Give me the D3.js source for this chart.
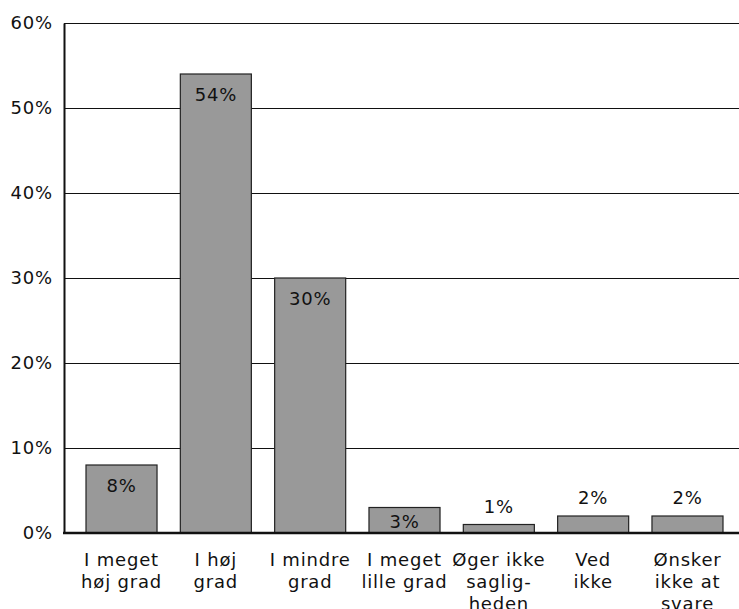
<!DOCTYPE html>
<html>
<head>
<meta charset="utf-8">
<script src="https://cdn.jsdelivr.net/npm/d3@7"></script>
<style>
  html, body { margin: 0; padding: 0; background: #fff; }
  text { font-family: "DejaVu Sans", sans-serif; fill: #111; }
</style>
</head>
<body>
<svg id="chart" width="739" height="609"></svg>
<script>
const categories = [
  "I meget\nhøj grad",
  "I høj\ngrad",
  "I mindre\ngrad",
  "I meget\nlille grad",
  "Øger ikke\nsaglig-\nheden",
  "Ved\nikke",
  "Ønsker\nikke at\nsvare"
];
const values = [8, 54, 30, 3, 1, 2, 2];
const yTicks = [0, 10, 20, 30, 40, 50, 60];

const svg = d3.select("#chart");
const mLeft = 64, mRight = 739, mTop = 23, mBottom = 533;

const y = d3.scaleLinear().domain([0, 60]).range([mBottom, mTop]);
const x = d3.scaleBand()
  .domain(categories)
  .range([74.35, 734.65])
  .paddingInner(0.247)
  .paddingOuter(0.1235);

// Y axis with gridlines
const yAxis = svg.append("g")
  .attr("transform", `translate(${mLeft},0)`)
  .call(d3.axisLeft(y)
    .tickValues(yTicks)
    .tickFormat(d => d + "%")
    .tickSize(-(mRight - mLeft))
    .tickSizeOuter(0)
    .tickPadding(11));
yAxis.select(".domain").attr("stroke", "#111").attr("stroke-width", 2);
yAxis.selectAll(".tick line").attr("stroke", "#111").attr("stroke-width", 1.2);
yAxis.selectAll(".tick text")
  .attr("font-size", 18)
  .attr("letter-spacing", 0.8)
  .style("font-family", "DejaVu Sans, sans-serif")
  .attr("fill", "#111");

// Bars
svg.append("g").selectAll("rect")
  .data(values)
  .join("rect")
  .attr("x", (d, i) => x(categories[i]))
  .attr("y", d => y(d))
  .attr("width", x.bandwidth())
  .attr("height", d => y(0) - y(d))
  .attr("fill", "#999999")
  .attr("stroke", "#222")
  .attr("stroke-width", 1.2);

// Baseline
svg.append("line")
  .attr("x1", mLeft - 1).attr("x2", mRight)
  .attr("y1", y(0)).attr("y2", y(0))
  .attr("stroke", "#111").attr("stroke-width", 2.6);

// Value labels
svg.append("g").selectAll("text")
  .data(values)
  .join("text")
  .attr("x", (d, i) => x(categories[i]) + x.bandwidth() / 2)
  .attr("y", d => d >= 3 ? Math.min(y(d) + 21, y(0) - 11) : y(d) - 18)
  .attr("dy", "0.36em")
  .attr("text-anchor", "middle")
  .attr("font-size", 18)
  .attr("letter-spacing", 0.8)
  .text(d => d + "%");

// Category labels
const xl = svg.append("g").selectAll("text")
  .data(categories)
  .join("text")
  .attr("text-anchor", "middle")
  .attr("font-size", 18)
  .attr("letter-spacing", 0.8)
  .attr("transform", d => `translate(${x(d) + x.bandwidth() / 2},566)`);
xl.each(function(d) {
  const lines = d.split("\n");
  d3.select(this).selectAll("tspan")
    .data(lines)
    .join("tspan")
    .attr("x", 0)
    .attr("y", (l, i) => i * 22)
    .text(l => l);
});
</script>
</body>
</html>
